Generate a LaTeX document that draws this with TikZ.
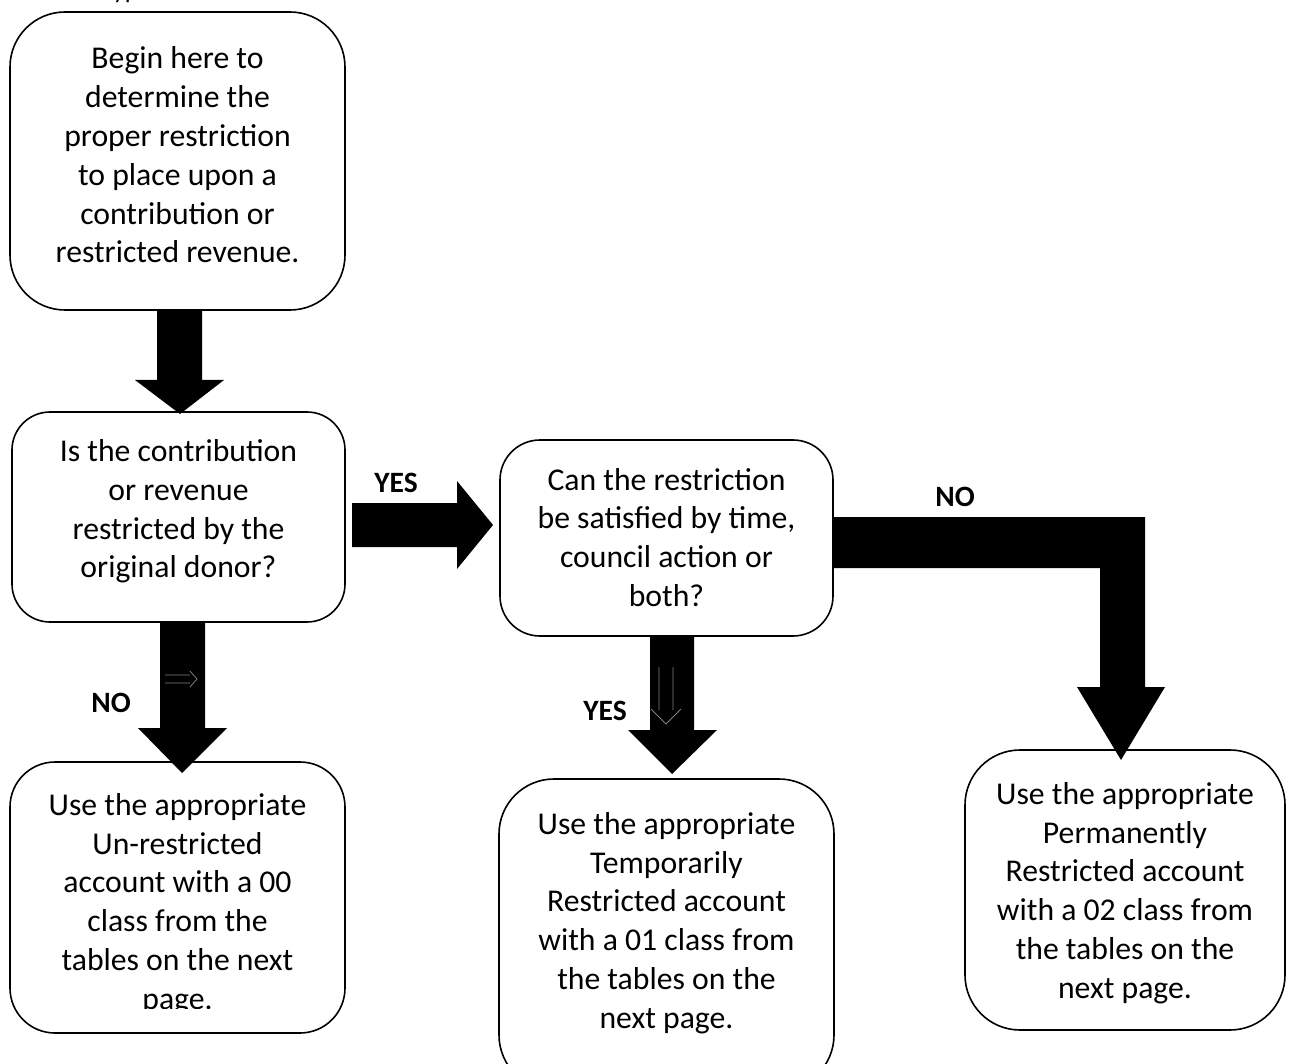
\documentclass[tikz,border=0pt]{standalone}
\usepackage{fontspec}
\setmainfont{Carlito}
\begin{document}
\begin{tikzpicture}[x=1pt,y=-1pt,
  box/.style={draw,line width=1.6pt,inner sep=0pt,rounded corners=#1},
  box/.default=45pt,
  txt/.style={align=center,inner sep=0pt,font=\fontsize{31.7}{38.8}\selectfont},
  lbl/.style={inner sep=0pt,font=\fontsize{29.5}{32}\selectfont\bfseries},
  blk/.style={fill=black,draw=none},
  ghost/.style={draw=gray,line width=0.8pt}]
\useasboundingbox (0,0) rectangle (1301,1064);

% cut-off line of text at the top
\node[anchor=base west,inner sep=0pt,font=\fontsize{26}{30}\selectfont] (top) at (63,-1) {the type of contribution or revenue received.};

% boxes
\node[box=55pt,minimum width=335pt,minimum height=298pt] (b1) at (177.5,161) {};
\node[box=38pt,minimum width=333pt,minimum height=210pt] (b2) at (178.5,517) {};
\node[box=40pt,minimum width=333pt,minimum height=196pt] (b3) at (666.5,538) {};
\node[box=45pt,minimum width=335pt,minimum height=271pt] (b4) at (177.5,897.5) {};
\node[box=55pt,minimum width=335pt,minimum height=311pt] (b5) at (666.5,934.5) {};
\node[box=55pt,minimum width=320pt,minimum height=280pt] (b6) at (1125,890) {};

% texts
\node[txt] (t1) at (177.5,155) {Begin here to\\determine the\\proper restriction\\to place upon a\\contribution or\\restricted revenue.};
\node[txt] (t2) at (178.5,511.5) {Is the contribution\\or revenue\\restricted by the\\original donor?};
\node[txt] (t3) at (666.5,537.5) {Can the restriction\\be satisfied by time,\\council action or\\both?};
\begin{scope}
\clip (10,762) rectangle (345,1008);
\node[txt] (t4) at (177.5,904) {Use the appropriate\\Un-restricted\\account with a 00\\class from the\\tables on the next\\page.};
\end{scope}
\node[txt] (t5) at (666.5,923) {Use the appropriate\\Temporarily\\Restricted account\\with a 01 class from\\the tables on the\\next page.};
\node[txt] (t6) at (1125,893) {Use the appropriate\\Permanently\\Restricted account\\with a 02 class from\\the tables on the\\next page.};

% block arrows
\fill[blk] (157,310) -- (202,310) -- (202,380) -- (224,380) -- (180,414) -- (135,380) -- (157,380) -- cycle;
\fill[blk] (160,622) -- (205,622) -- (205,728) -- (227,728) -- (182,773) -- (138,728) -- (160,728) -- cycle;
\fill[blk] (352,503) -- (457,503) -- (457,481) -- (493,525) -- (457,569) -- (457,547) -- (352,547) -- cycle;
\fill[blk] (650,636) -- (694,636) -- (694,730) -- (717,730) -- (672,774) -- (628,730) -- (650,730) -- cycle;
\fill[blk] (833,517) -- (1145,517) -- (1145,687) -- (1165,687) -- (1121,760) -- (1077,687) -- (1100,687) -- (1100,568) -- (833,568) -- cycle;

% faint glyphs inside the shafts
\draw[ghost] (165,675) -- (190,675) (165,683) -- (190,683) (190,671) -- (197,679) -- (190,687);
\draw[ghost] (659,667) -- (659,710) (673,667) -- (673,710) (651,709) -- (666,724) -- (681,709);

% labels
\node[lbl] (yes1) at (396,483) {YES};
\node[lbl] (no1) at (955,497) {NO};
\node[lbl] (no2) at (111,703) {NO};
\node[lbl] (yes2) at (605,711) {YES};
\end{tikzpicture}
\end{document}
